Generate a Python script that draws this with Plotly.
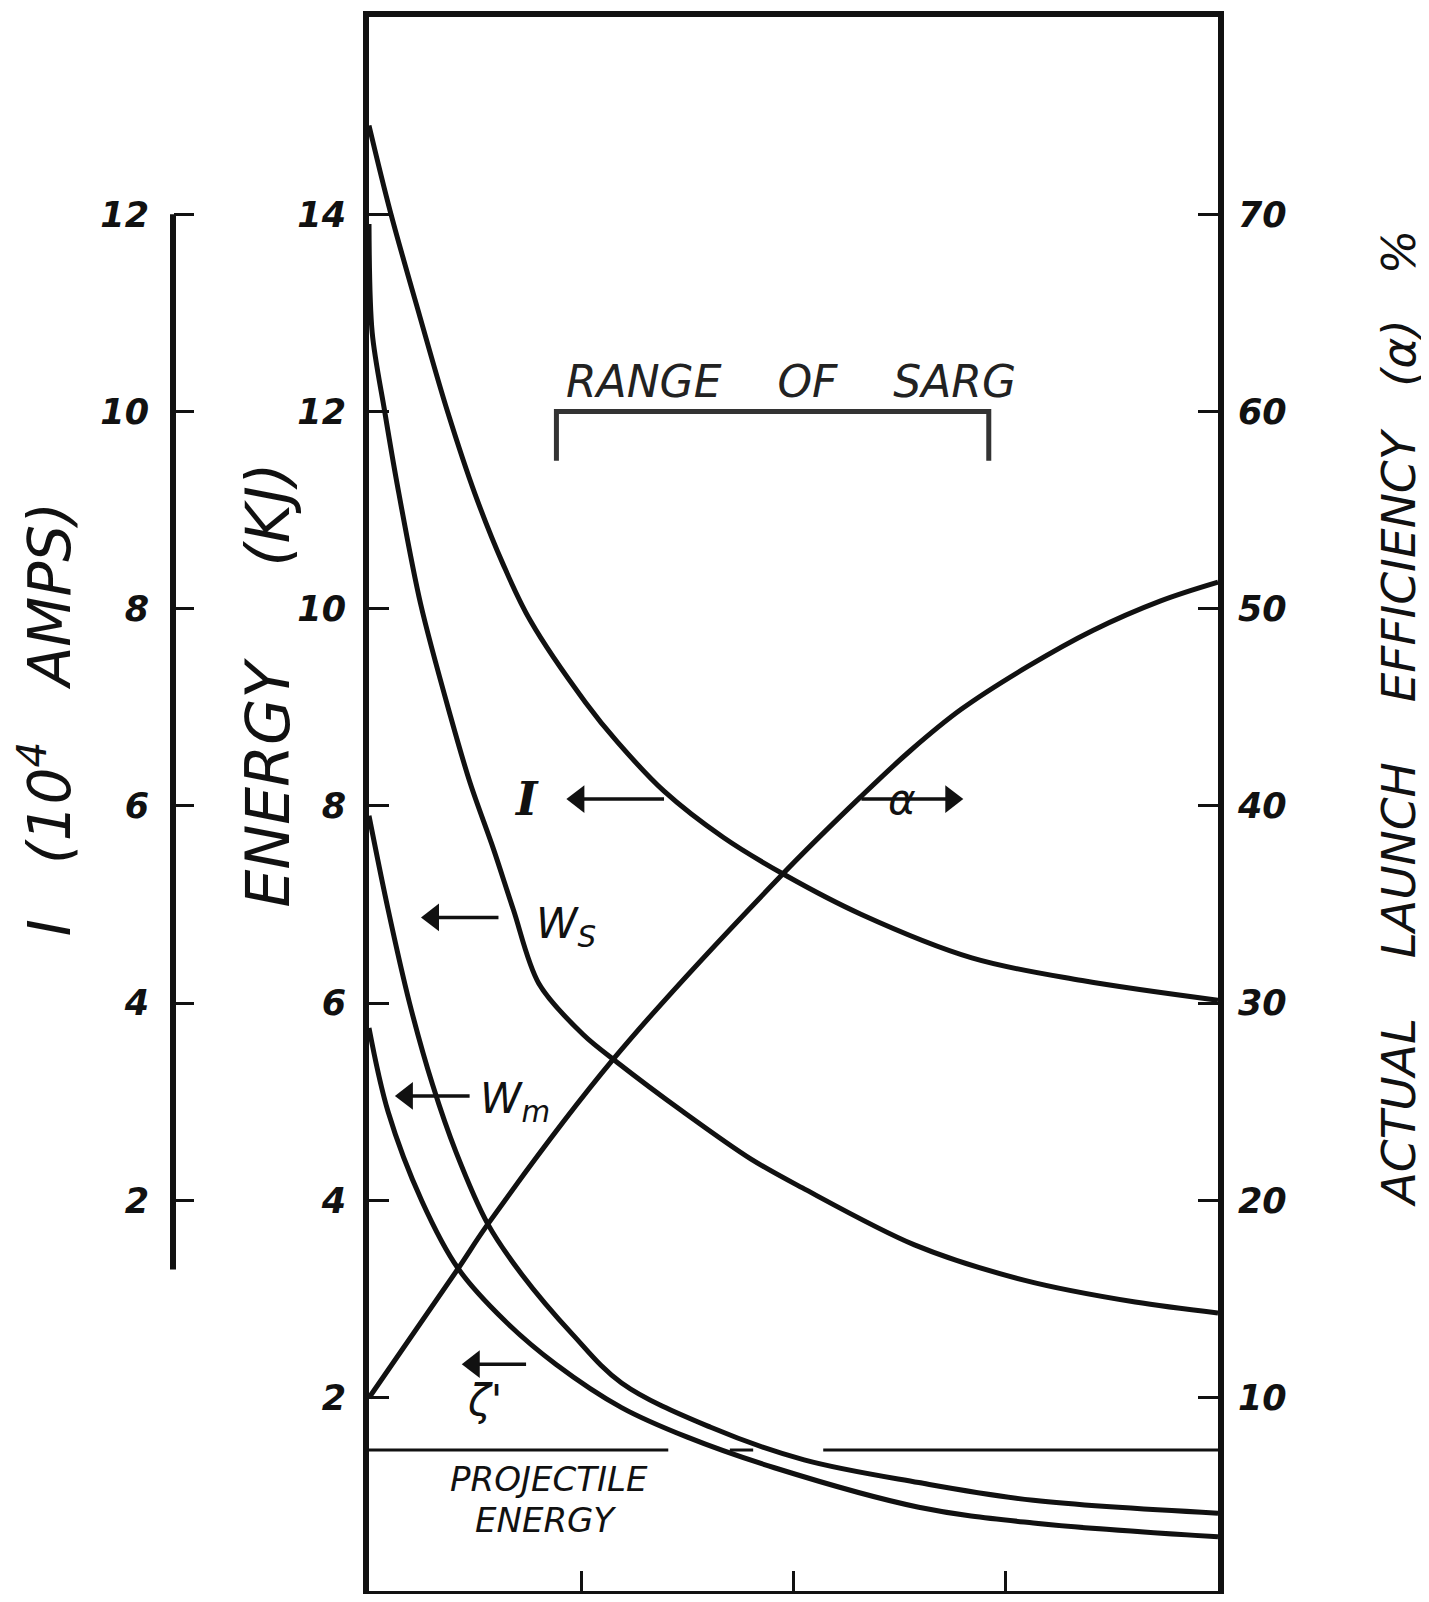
import plotly.graph_objects as go

# ---------------- data ----------------
# current I (10^4 A) vs. x  (plotted on the outer left I-axis)
x_I = [0, 0.10, 0.24, 0.37, 0.50, 0.63, 0.76, 1.02, 1.17, 1.39, 1.67, 1.96, 2.32, 2.84, 3.36, 4.0]
I_vals = [12.9, 12.03, 10.96, 10.0, 9.16, 8.46, 7.88, 7.05, 6.65, 6.15, 5.68, 5.30, 4.90, 4.46, 4.23, 4.03]

# stored energy Ws (kJ)
x_Ws = [0, 0.015, 0.074, 0.133, 0.243, 0.384, 0.477, 0.587, 0.68, 0.80, 1.01, 1.17, 1.48, 1.80, 2.04, 2.57, 3.09, 3.61, 4.0]
Ws_kJ = [13.9, 12.8, 12.0, 11.26, 10.05, 8.91, 8.23, 7.56, 6.95, 6.2, 5.68, 5.40, 4.9, 4.42, 4.13, 3.55, 3.19, 2.97, 2.86]

# magnetic energy Wm (kJ)
x_Wm = [0, 0.09, 0.19, 0.30, 0.41, 0.56, 0.72, 0.96, 1.19, 1.61, 2.05, 2.59, 3.13, 4.0]
Wm_kJ = [7.9, 6.95, 6.01, 5.17, 4.49, 3.76, 3.25, 2.64, 2.15, 1.70, 1.37, 1.14, 0.96, 0.83]

# zeta' (kJ)
x_zeta = [0, 0.09, 0.25, 0.42, 0.64, 0.88, 1.19, 1.50, 1.91, 2.59, 3.13, 4.0]
zeta_kJ = [5.75, 4.90, 3.99, 3.31, 2.78, 2.34, 1.90, 1.60, 1.29, 0.89, 0.73, 0.59]

# actual launch efficiency alpha (%)
x_alpha = [0, 0.42, 0.56, 1.15, 1.94, 2.32, 2.55, 2.79, 3.10, 3.41, 3.73, 4.0]
alpha_pct = [10.0, 16.55, 18.8, 27.15, 36.45, 40.5, 42.8, 44.9, 47.05, 48.9, 50.4, 51.35]

# projectile energy (kJ), drawn as a broken horizontal line
proj_energy = 1.47
proj_x = [0, 1.41, None, 1.70, 1.81, None, 2.14, 4.0]

# SARG range bracket (x extent)
sarg_x = [0.883, 2.92]

energy_ticks = [2, 4, 6, 8, 10, 12, 14]
alpha_ticks = [10, 20, 30, 40, 50, 60, 70]
I_ticks = [2, 4, 6, 8, 10, 12]
x_ticks = [1, 2, 3]

# callout arrows: tail x, tip x, energy level
arrow_tail = [1.39, 2.32, 0.61, 0.474, 0.74]
arrow_tip = [0.93, 2.80, 0.245, 0.122, 0.437]
arrow_level = [8.07, 8.07, 6.87, 5.06, 2.34]

# ---------------- figure ----------------
INK = "#111111"
FONT = "DejaVu Sans"
# page has an 8px body margin -> figure offset by 8px inside the window
W, H = 1421, 1586
FRAME_L, FRAME_R, FRAME_T, FRAME_B = 361, 1210, 3, 1583
PX_PER_KJ = 99.0
E_MAX = 16.0
E_MIN = E_MAX - (FRAME_B - FRAME_T) / PX_PER_KJ
ML, MR, MT, MB = 92, W - FRAME_R, FRAME_T, H - FRAME_B
PW = W - ML - MR
PH = FRAME_B - FRAME_T
X_PX = (FRAME_R - FRAME_L) / 4.0


def px_to_paper_x(px):
    return (px - ML) / PW


def px_to_paper_y(py):
    return (FRAME_B - py) / PH


fig = go.Figure()

line_kw = dict(color=INK, width=5)
fig.add_trace(go.Scatter(x=x_I, y=I_vals, yaxis="y3", mode="lines",
                         line=dict(shape="spline", smoothing=1.0, **line_kw), name="I"))
fig.add_trace(go.Scatter(x=x_Ws, y=Ws_kJ, mode="lines",
                         line=dict(shape="spline", smoothing=0.9, **line_kw), name="Ws"))
fig.add_trace(go.Scatter(x=x_Wm, y=Wm_kJ, mode="lines",
                         line=dict(shape="spline", smoothing=1.0, **line_kw), name="Wm"))
fig.add_trace(go.Scatter(x=x_zeta, y=zeta_kJ, mode="lines",
                         line=dict(shape="spline", smoothing=1.0, **line_kw), name="zeta'"))
fig.add_trace(go.Scatter(x=x_alpha, y=alpha_pct, yaxis="y2", mode="lines",
                         line=dict(shape="spline", smoothing=1.0, **line_kw), name="alpha"))
fig.add_trace(go.Scatter(x=proj_x, y=[proj_energy if v is not None else None for v in proj_x],
                         mode="lines", line=dict(color=INK, width=3), connectgaps=False,
                         name="projectile energy"))
# SARG bracket
fig.add_trace(go.Scatter(x=[sarg_x[0], sarg_x[0], sarg_x[1], sarg_x[1]],
                         y=[11.5, 12.0, 12.0, 11.5], mode="lines",
                         line=dict(color="#333333", width=5), name="SARG"))

# arrows: shafts + heads
HEAD = 24  # marker size (px)
for tl, tp, lv in zip(arrow_tail, arrow_tip, arrow_level):
    d = 1 if tp > tl else -1
    head_center = tp - d * (HEAD * 0.5) / X_PX
    fig.add_trace(go.Scatter(x=[tl, head_center], y=[lv, lv], mode="lines",
                             line=dict(color=INK, width=3.5), hoverinfo="skip"))
    fig.add_trace(go.Scatter(x=[head_center], y=[lv], mode="markers", hoverinfo="skip",
                             marker=dict(symbol="triangle-right" if d > 0 else "triangle-left",
                                         size=HEAD, color=INK, line=dict(width=0))))

tickfont = dict(family=FONT, size=35, color=INK, style="italic", weight="bold")

fig.update_layout(
    width=W, height=H,
    margin=dict(l=ML, r=MR, t=MT, b=MB, pad=0),
    paper_bgcolor="white", plot_bgcolor="white",
    showlegend=False,
    font=dict(family=FONT, color=INK, style="italic"),
    xaxis=dict(domain=[px_to_paper_x(FRAME_L), 1], range=[0, 4], showgrid=False, zeroline=False,
               showline=True, linecolor=INK, linewidth=6, mirror=True,
               ticks="inside", tickvals=x_ticks, ticklen=20, tickwidth=3, tickcolor=INK,
               showticklabels=False),
    yaxis=dict(range=[E_MIN, E_MAX], showgrid=False, zeroline=False,
               showline=True, linecolor=INK, linewidth=6, mirror=True,
               ticks="inside", tickvals=energy_ticks, ticklen=20, tickwidth=3, tickcolor=INK,
               tickfont=tickfont, ticklabelstandoff=10),
    yaxis2=dict(overlaying="y", side="right", anchor="x", range=[5 * E_MIN, 5 * E_MAX], showgrid=False,
                zeroline=False, showline=False,
                ticks="inside", tickvals=alpha_ticks, ticklen=20, tickwidth=3, tickcolor=INK,
                tickfont=tickfont, ticklabelstandoff=19),
    yaxis3=dict(overlaying="y", side="left", anchor="free", position=px_to_paper_x(165),
                range=[E_MIN - 2, E_MAX - 2], showgrid=False, zeroline=False, showline=False,
                ticks="inside", tickvals=I_ticks, ticklen=20, tickwidth=3, tickcolor=INK,
                tickfont=tickfont, ticklabelstandoff=24),
)

# outer I axis line
fig.add_shape(type="line", xref="paper", yref="y3", x0=px_to_paper_x(165), x1=px_to_paper_x(165),
              y0=1.3, y1=12, line=dict(color=INK, width=6))

NB = "\u00a0"
# axis titles
fig.add_annotation(xref="paper", yref="paper", x=px_to_paper_x(38), y=px_to_paper_y(708),
                   xanchor="center", yanchor="middle",
                   text="I" + NB * 3 + "(10<sup>4</sup>" + NB * 3 + "AMPS)", textangle=-90, showarrow=False,
                   font=dict(family=FONT, size=58, color=INK, style="italic"))
fig.add_annotation(xref="paper", yref="paper", x=px_to_paper_x(260), y=px_to_paper_y(674),
                   xanchor="center", yanchor="middle",
                   text="ENERGY" + NB * 5 + "(KJ)", textangle=-90, showarrow=False,
                   font=dict(family=FONT, size=60, color=INK, style="italic"))
fig.add_annotation(xref="paper", yref="paper", x=px_to_paper_x(1390), y=px_to_paper_y(707),
                   xanchor="center", yanchor="middle",
                   text="ACTUAL" + NB * 4 + "LAUNCH" + NB * 4 + "EFFICIENCY" + NB * 3 + "(α)" + NB * 3 + "%",
                   textangle=-90, showarrow=False,
                   font=dict(family=FONT, size=47, color=INK, style="italic"))

# range of SARG text
fig.add_annotation(x=1.99, y=12.3, text="RANGE" + NB * 4 + "OF" + NB * 4 + "SARG", showarrow=False,
                   font=dict(family=FONT, size=44, color="#222222", style="italic"))

# projectile energy label
fig.add_annotation(x=0.85, y=1.18, text="PROJECTILE", showarrow=False,
                   font=dict(family=FONT, size=34, color=INK, style="italic"))
fig.add_annotation(x=0.83, y=0.76, text="ENERGY", showarrow=False,
                   font=dict(family=FONT, size=34, color=INK, style="italic"))

lab_font = dict(family=FONT, size=42, color=INK, style="italic")
fig.add_annotation(x=0.74, y=8.07, text="I", showarrow=False,
                   font=dict(family="DejaVu Serif", size=46, color=INK, style="italic", weight="bold"))
fig.add_annotation(x=2.51, y=8.07, text="α", showarrow=False,
                   font=dict(family=FONT, size=42, color=INK, style="italic"))
fig.add_annotation(x=0.93, y=6.78, text="W<sub>S</sub>", showarrow=False, font=lab_font)
fig.add_annotation(x=0.69, y=5.0, text="W<sub>m</sub>", showarrow=False, font=lab_font)
fig.add_annotation(x=0.545, y=1.97, text="ζ'", showarrow=False, font=lab_font)

fig.write_html("out.html")
